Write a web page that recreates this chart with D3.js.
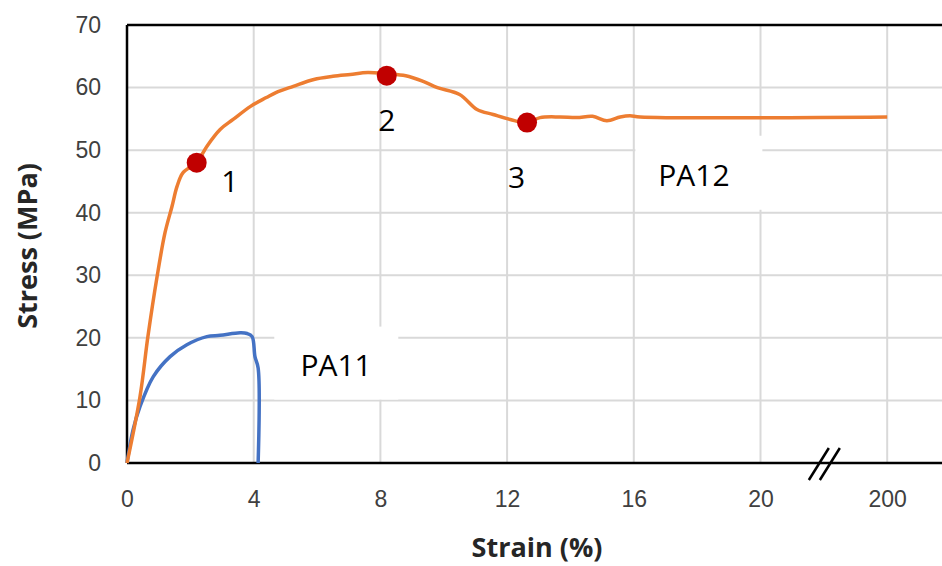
<!DOCTYPE html>
<html>
<head>
<meta charset="utf-8">
<script src="https://cdn.jsdelivr.net/npm/d3@7"></script>
<style>
  html, body { margin: 0; padding: 0; background: #fff; }
  svg { display: block; font-family: 'Open Sans', 'Noto Sans', sans-serif; }
</style>
</head>
<body>
<div id="chart"></div>
<script>
// Tick labels (x axis has a break between 20 and 200)
const xTicks = [0, 4, 8, 12, 16, 20, 200];
const yTicks = [0, 10, 20, 30, 40, 50, 60, 70];

// PA12 stress-strain curve
const pa12Strain = [0, 0.41, 0.66, 0.95, 1.2, 1.42, 1.58, 1.77, 2.2, 2.52, 2.94, 3.35, 3.9, 4.4, 4.7, 5.25, 5.9, 6.5, 7.05, 7.6, 8.2, 8.8, 9.35, 9.8, 10.5, 11.05, 11.56, 12.1, 12.63, 13.04, 13.67, 14.2, 14.7, 15.15, 15.57, 15.88, 16.2, 200];
const pa12Stress = [0, 10.6, 20.2, 29.8, 36.8, 41, 44.2, 46.4, 48, 50.6, 53.3, 54.9, 57, 58.4, 59.2, 60.2, 61.3, 61.8, 62.1, 62.4, 62.2, 61.9, 61, 60, 58.9, 56.5, 55.7, 54.9, 54.4, 55.2, 55.3, 55.2, 55.4, 54.7, 55.3, 55.5, 55.3, 55.3];

// PA11 stress-strain curve
const pa11Strain = [0, 0.19, 0.41, 0.83, 1.36, 1.89, 2.52, 2.94, 3.57, 3.79, 3.95, 4.04, 4.14, 4.14];
const pa11Stress = [0, 5.3, 9, 13.8, 17, 18.9, 20.2, 20.4, 20.8, 20.7, 20.2, 17, 15.2, 0];

// Marked points 1, 2, 3
const markLabels = ['1', '2', '3'];
const markStrain = [2.2, 8.2, 12.63];
const markStress = [48, 61.9, 54.4];

const width = 942, height = 566;
const margin = { top: 25, right: 0, bottom: 103, left: 127 };
const innerW = width - margin.left - margin.right;
const innerH = height - margin.top - margin.bottom;
const step = 126.7; // px between ticks

const svg = d3.select('#chart').append('svg')
  .attr('width', width)
  .attr('height', height);

const g = svg.append('g')
  .attr('transform', `translate(${margin.left},${margin.top})`);

// piecewise scale: 0..20 linear, then 20..200 squeezed into one tick gap
const x = d3.scaleLinear()
  .domain([0, 20, 200])
  .range([0, 5 * step, 6 * step]);

const y = d3.scaleLinear()
  .domain([0, 70])
  .range([innerH, 0]);

// Gridlines
g.selectAll('.hgrid')
  .data(yTicks.filter(d => d > 0 && d < 70))
  .enter().append('line')
  .attr('x1', 0).attr('x2', innerW)
  .attr('y1', d => y(d)).attr('y2', d => y(d))
  .attr('stroke', '#d9d9d9').attr('stroke-width', 2);

g.selectAll('.vgrid')
  .data(xTicks.filter(d => d > 0))
  .enter().append('line')
  .attr('x1', d => x(d)).attr('x2', d => x(d))
  .attr('y1', 0).attr('y2', innerH)
  .attr('stroke', '#d9d9d9').attr('stroke-width', 2);

// Y axis
const yAxis = g.append('g')
  .call(d3.axisLeft(y).tickValues(yTicks).tickSize(0).tickPadding(26));
yAxis.select('.domain').remove();
yAxis.selectAll('text')
  .attr('fill', '#404040')
  .style('font-size', '23px');

// X axis
const xAxis = g.append('g')
  .attr('transform', `translate(0,${innerH})`)
  .call(d3.axisBottom(x).tickValues(xTicks).tickFormat(d3.format('d')).tickSize(0).tickPadding(28));
xAxis.select('.domain').remove();
xAxis.selectAll('text')
  .attr('fill', '#404040')
  .style('font-size', '23px');

// Frame: left, top and bottom black lines
g.append('line').attr('x1', 0).attr('x2', 0).attr('y1', 0).attr('y2', innerH)
  .attr('stroke', '#000').attr('stroke-width', 2.5);
g.append('line').attr('x1', 0).attr('x2', innerW).attr('y1', 0).attr('y2', 0)
  .attr('stroke', '#000').attr('stroke-width', 2.5);
g.append('line').attr('x1', 0).attr('x2', innerW).attr('y1', innerH).attr('y2', innerH)
  .attr('stroke', '#000').attr('stroke-width', 2.5);

// Axis break mark between 20 and 200
const breakX = (x(20) + x(200)) / 2 - 5;
[0, 11].forEach(dx => {
  g.append('line')
    .attr('x1', breakX + dx - 10).attr('y1', innerH + 17)
    .attr('x2', breakX + dx + 10).attr('y2', innerH - 15)
    .attr('stroke', '#000').attr('stroke-width', 2.5);
});

// Label boxes (white, they hide the gridlines)
const labels = [
  { text: 'PA11', x: 4.65, y: 21.8, w: 124, h: 73, cx: 6.6, cy: 15.8 },
  { text: 'PA12', x: 16.05, y: 52.3, w: 127, h: 74, cx: 17.9, cy: 46.1 }
];
labels.forEach(l => {
  g.append('rect')
    .attr('x', x(l.x)).attr('y', y(l.y))
    .attr('width', l.w).attr('height', l.h)
    .attr('fill', '#fff');
});

// Lines
const line = d3.line()
  .curve(d3.curveCatmullRom.alpha(0.5))
  .x(d => x(d[0]))
  .y(d => y(d[1]));

g.append('path')
  .datum(pa11Strain.map((s, i) => [s, pa11Stress[i]]))
  .attr('fill', 'none')
  .attr('stroke', '#4472c4')
  .attr('stroke-width', 3.5)
  .attr('stroke-linejoin', 'round')
  .attr('d', line);

g.append('path')
  .datum(pa12Strain.map((s, i) => [s, pa12Stress[i]]))
  .attr('fill', 'none')
  .attr('stroke', '#ed7d31')
  .attr('stroke-width', 3.5)
  .attr('stroke-linejoin', 'round')
  .attr('d', line);

// Red points
g.selectAll('circle')
  .data(markStrain)
  .enter().append('circle')
  .attr('cx', d => x(d))
  .attr('cy', (d, i) => y(markStress[i]))
  .attr('r', 10)
  .attr('fill', '#c00000');

// Point numbers
const numPos = [[3.25, 45.2], [8.2, 54.9], [12.3, 45.8]];
g.selectAll('.num')
  .data(markLabels)
  .enter().append('text')
  .attr('x', (d, i) => x(numPos[i][0]))
  .attr('y', (d, i) => y(numPos[i][1]))
  .attr('text-anchor', 'middle')
  .attr('dominant-baseline', 'central')
  .attr('fill', '#000')
  .style('font-size', '30px')
  .text(d => d);

// Series names
labels.forEach(l => {
  g.append('text')
    .attr('x', x(l.cx)).attr('y', y(l.cy))
    .attr('text-anchor', 'middle')
    .attr('dominant-baseline', 'central')
    .attr('fill', '#000')
    .style('font-size', '30px')
    .text(l.text);
});

// Axis titles
svg.append('text')
  .attr('x', 537).attr('y', 557)
  .attr('text-anchor', 'middle')
  .attr('fill', '#262626')
  .style('font-size', '27px').style('font-weight', 'bold')
  .text('Strain (%)');

svg.append('text')
  .attr('transform', 'translate(37,246) rotate(-90)')
  .attr('text-anchor', 'middle')
  .attr('fill', '#262626')
  .style('font-size', '27px').style('font-weight', 'bold')
  .text('Stress (MPa)');
</script>
</body>
</html>
